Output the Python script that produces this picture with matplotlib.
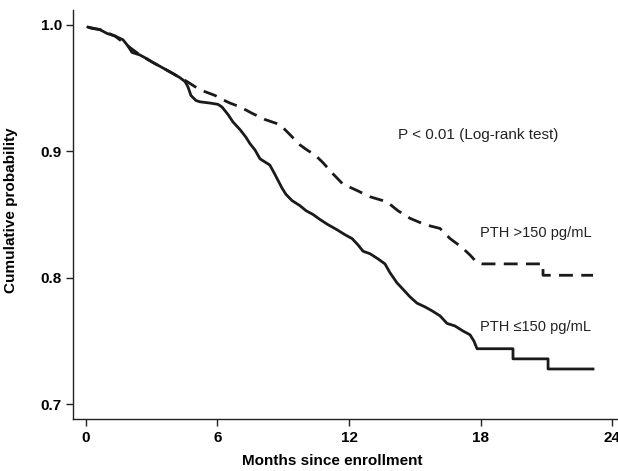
import matplotlib
matplotlib.use("Agg")
import matplotlib.pyplot as plt

# PTH <=150 pg/mL (solid) - Kaplan-Meier curve
low_months = [0.09, 0.27, 0.64, 0.96, 1.32, 1.69, 1.92, 2.10, 2.46, 2.78, 3.06, 3.38, 3.69,
              4.01, 4.29, 4.52, 4.65, 4.79, 5.02, 5.20, 5.66, 6.02, 6.20, 6.48, 6.71, 7.03,
              7.30, 7.48, 7.71, 7.94, 8.21, 8.39, 8.58, 8.76, 8.94, 9.12, 9.40, 9.76, 10.04,
              10.36, 10.68, 11.04, 11.45, 11.82, 12.14, 12.41, 12.64, 12.96, 13.32, 13.64,
              13.87, 14.19, 14.46, 14.78, 15.10, 15.47, 15.78, 16.15, 16.47, 16.83, 17.20,
              17.52, 17.70, 17.84, 19.48, 19.48, 21.08, 21.08, 23.13]
low_surv = [0.998, 0.997, 0.996, 0.993, 0.991, 0.988, 0.983, 0.978, 0.976, 0.973, 0.970,
            0.967, 0.964, 0.961, 0.958, 0.955, 0.951, 0.944, 0.940, 0.939, 0.938, 0.937, 0.935,
            0.929, 0.923, 0.917, 0.911, 0.906, 0.901, 0.894, 0.891, 0.889, 0.883, 0.877, 0.871,
            0.866, 0.861, 0.857, 0.853, 0.850, 0.846, 0.842, 0.838, 0.834, 0.831, 0.826, 0.821,
            0.819, 0.815, 0.811, 0.804, 0.796, 0.791, 0.785, 0.780, 0.777, 0.774, 0.770, 0.764,
            0.762, 0.758, 0.755, 0.750, 0.744, 0.744, 0.736, 0.736, 0.728, 0.728]

# PTH >150 pg/mL (dashed)
high_months = [0.09, 0.64, 1.32, 1.92, 2.46, 3.06, 3.69, 4.29, 4.61, 4.97, 5.43, 5.89,
               6.20, 6.57, 7.03, 7.57, 8.17, 8.85, 9.31, 9.76, 10.08, 10.45, 10.81, 11.22,
               11.72, 12.36, 12.96, 13.73, 14.23, 14.78, 15.47, 16.15, 16.61, 17.15, 17.52,
               17.84, 18.07, 20.85, 20.85, 23.13]
high_surv = [0.998, 0.996, 0.991, 0.983, 0.976, 0.970, 0.964, 0.958, 0.955, 0.951,
             0.947, 0.944, 0.941, 0.938, 0.935, 0.930, 0.925, 0.921, 0.913, 0.905, 0.901,
             0.897, 0.891, 0.883, 0.874, 0.869, 0.864, 0.860, 0.853, 0.847, 0.842, 0.839,
             0.831, 0.824, 0.818, 0.812, 0.811, 0.811, 0.802, 0.802]

x_ticks = [0, 6, 12, 18, 24]
y_ticks = [0.7, 0.8, 0.9, 1.0]
y_tick_labels = ["0.7", "0.8", "0.9", "1.0"]

plt.rcParams['font.family'] = ['Liberation Sans', 'DejaVu Sans']

fig = plt.figure(figsize=(6.18, 4.71), dpi=100)
ax = fig.add_axes([73 / 618, 52 / 471, (618 - 73) / 618, (419 - 10) / 471])

ax.plot(high_months, high_surv, color='#1a1a1a', lw=2.0,
        linestyle=(0, (5, 3)), zorder=2)
ax.plot(low_months, low_surv, color='#1a1a1a', lw=2.0, zorder=3)

ax.set_xlim(-0.59, 24.27)
ax.set_ylim(0.6885, 1.0115)

ax.set_xticks(x_ticks)
ax.set_xticklabels([str(t) for t in x_ticks], fontweight='bold', fontsize=11)
ax.set_yticks(y_ticks)
ax.set_yticklabels(y_tick_labels, fontweight='bold', fontsize=11)
ax.tick_params(axis='both', direction='out', length=5, width=1.0, color='#222222')
ax.tick_params(axis='x', pad=4)
ax.tick_params(axis='y', pad=3)

for s in ['top', 'right']:
    ax.spines[s].set_visible(False)
for s in ['left', 'bottom']:
    ax.spines[s].set_linewidth(1.0)
    ax.spines[s].set_color('#222222')

ax.set_xlabel('Months since enrollment', fontweight='bold', fontsize=11)
ax.xaxis.set_label_coords((332 - 73) / 545, -0.085)
ax.set_ylabel('Cumulative probability', fontweight='bold', fontsize=11)
ax.yaxis.set_label_coords(-0.100, 0.51)

ax.text(17.9, 0.913, 'P < 0.01 (Log-rank test)', fontsize=11, ha='center', va='center',
        color='#222222')
ax.text(17.97, 0.835, 'PTH >150 pg/mL', fontsize=10.5, ha='left', va='center', color='#222222')
ax.text(17.97, 0.761, 'PTH \u2264150 pg/mL', fontsize=10.5, ha='left', va='center', color='#222222')

fig.savefig('out.png', dpi=100)
